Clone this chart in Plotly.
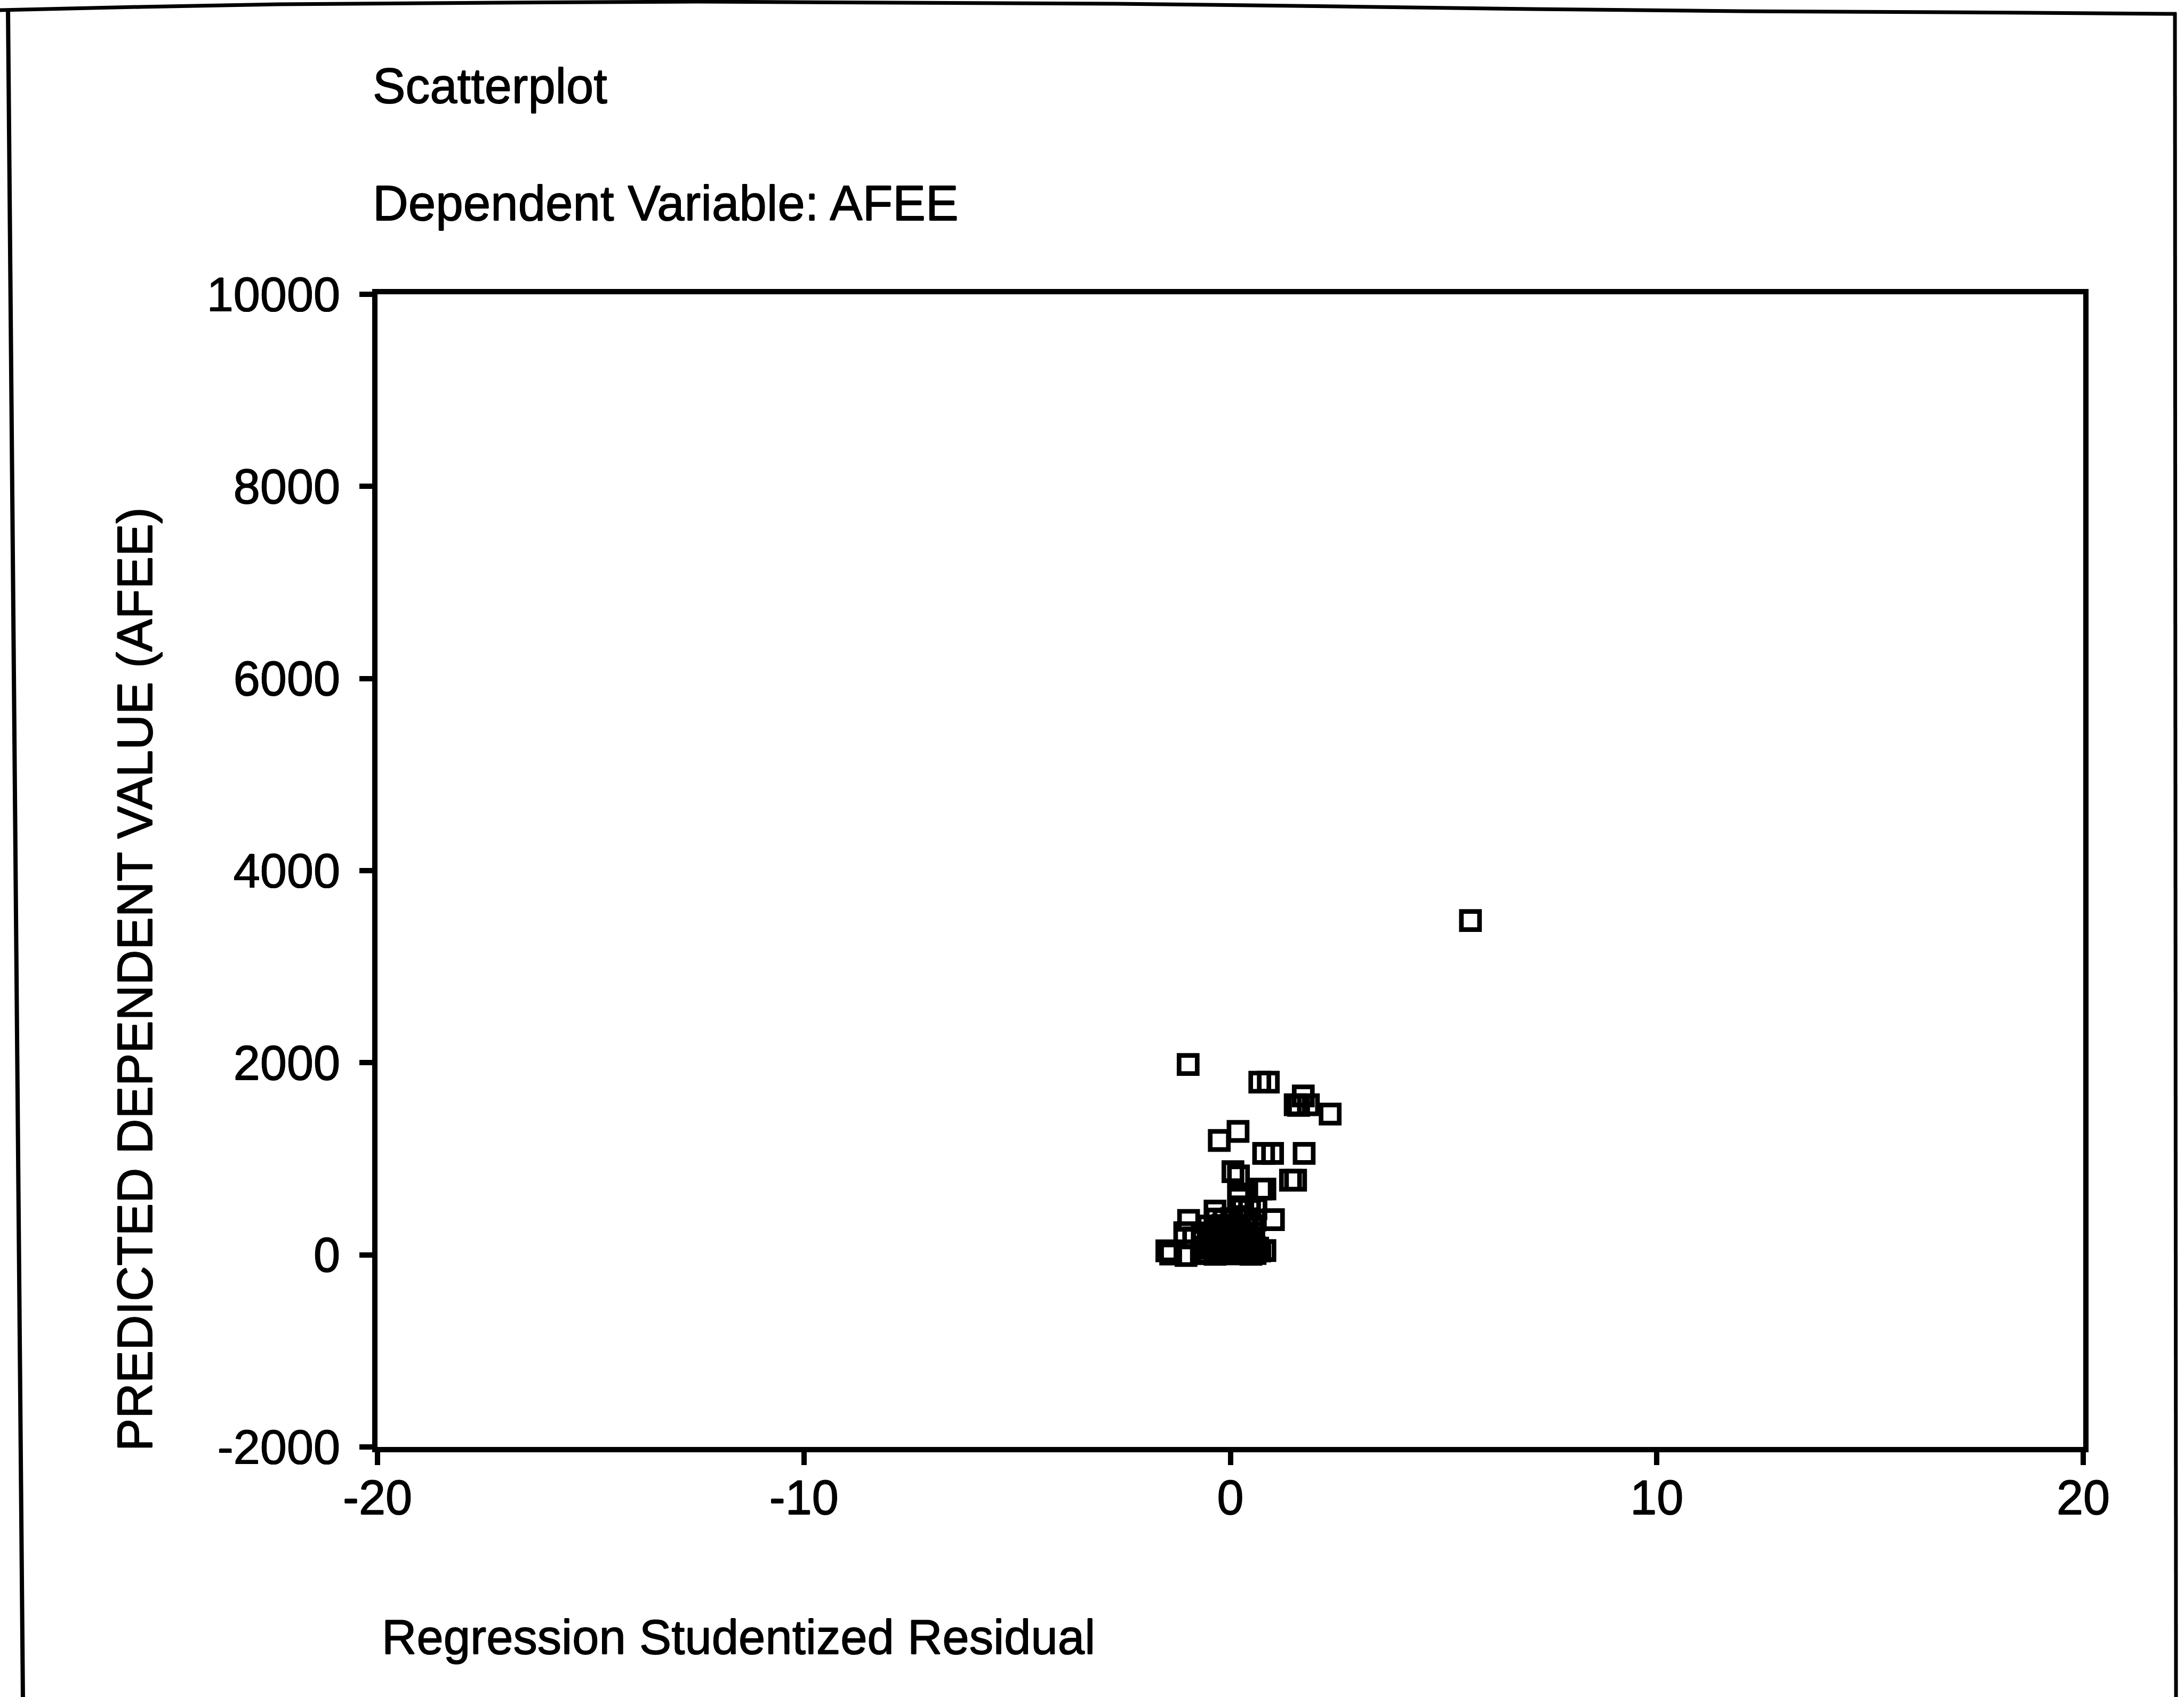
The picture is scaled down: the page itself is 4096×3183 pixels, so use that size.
import plotly.graph_objects as go

# Regression studentized residuals (x) against predicted AFEE values (y)
resid = [
    5.63, -0.99, 0.69, 0.89, 1.71, 1.52, 1.60, 1.83, 2.34, -0.26, 0.18,
    0.78, 0.99, 1.73, 1.41, 1.53,
    0.06, 0.19, 0.19, 0.72, 0.81, 1.01, 0.81, -0.36, 0.22, 0.29, 0.45, 0.60,
    -0.98, -1.07, -1.49, -1.04, -0.86, 0.69, 0.64,
    -1.40, -0.68, -0.52, -0.36, -0.19, -0.02, 0.15, 0.32, 0.48, 0.58,
    -0.60, -0.44, -0.27, -0.10, 0.07, 0.24, 0.40, 0.56,
    -0.65, -0.48, -0.31, -0.14, 0.03, 0.20, 0.37, 0.55,
    -0.66, -0.49, -0.32, -0.15, 0.02, 0.19, 0.36, 0.52,
    -0.52, -0.35, -0.18, 0.00, 0.18, 0.35, 0.52,
    -0.33, -0.15, 0.03, 0.22, 0.40, 0.58,
]
pred = [
    3480, 1982, 1798, 1798, 1654, 1563, 1555, 1563, 1465, 1191, 1285,
    1056, 1056, 1056, 777, 777,
    866, 822, 588, 685, 685, 367, 45, 455, 500, 475, 470, 480,
    359, 231, 42, -7, 177, 40, 70,
    8, 12, 20, 5, 15, 25, 10, 18, 6, 14,
    80, 70, 85, 75, 68, 82, 72, 78,
    150, 160, 145, 155, 148, 158, 142, 152,
    228, 220, 232, 224, 236, 218, 230, 226,
    300, 292, 306, 298, 310, 296, 304,
    372, 365, 378, 368, 375, 362,
]

x_ticks = [-20, -10, 0, 10, 20]
y_ticks = [-2000, 0, 2000, 4000, 6000, 8000, 10000]

title_main = "Scatterplot"
title_sub = "Dependent Variable: AFEE"
x_title = "Regression Studentized Residual"
y_title = "PREDICTED DEPENDENT VALUE (AFEE)"

FONT = "Liberation Sans, Arial, Helvetica, sans-serif"
INK = "black"
# a faint outline thickens the glyph strokes slightly
HALO = "0.7px 0 0 black, -0.7px 0 0 black, 0 0.7px 0 black, 0 -0.7px 0 black"

W, H = 4096, 3183
L, R, T, B = 708, 189, 552, 469
plot_w = W - L - R
plot_h = H - T - B


def px(v):
    """page pixel column -> paper x"""
    return (v - L) / plot_w


def py(v):
    """page pixel row -> paper y"""
    return (H - B - v) / plot_h


fig = go.Figure()
fig.add_trace(go.Scatter(
    x=resid, y=pred, mode="markers",
    marker=dict(symbol="square-open", size=34, color=INK,
                line=dict(width=8.7, color=INK)),
    hoverinfo="x+y",
))

axis_common = dict(
    showline=True, linewidth=10, linecolor=INK, mirror=True,
    ticks="outside", ticklen=24, tickwidth=10, tickcolor=INK,
    showgrid=False, zeroline=False,
    tickfont=dict(family=FONT, size=90, color=INK, shadow=HALO),
)

fig.update_xaxes(range=[-20, 20], tickmode="array", tickvals=x_ticks,
                 ticktext=[str(v) for v in x_ticks], ticklabelstandoff=-16,
                 **axis_common)
fig.update_yaxes(range=[-2000, 10000], tickmode="array", tickvals=y_ticks,
                 ticktext=[str(v) for v in y_ticks], ticklabelstandoff=18,
                 **axis_common)


def text_font(size):
    return dict(family=FONT, size=size, color=INK, shadow=HALO)


annotations = [
    dict(text=title_main, x=px(697), y=py(161), xanchor="left", yanchor="middle",
         font=text_font(92)),
    dict(text=title_sub, x=px(697), y=py(381), xanchor="left", yanchor="middle",
         font=text_font(92.5)),
    dict(text=x_title, x=px(714), y=py(3070), xanchor="left", yanchor="middle",
         font=text_font(90.5)),
    dict(text=y_title, x=px(253), y=py(1837), xanchor="center", yanchor="middle",
         textangle=-90, font=text_font(92)),
]
for a in annotations:
    a.update(xref="paper", yref="paper", showarrow=False)

# outer page frame: slightly bowed top edge, open at the bottom
top_edge = [(0, 19), (261, 13), (523, 8), (940, 5), (1307, 3), (1672, 5),
            (2090, 7), (2508, 12), (2874, 17), (3266, 21), (3658, 23), (4082, 26)]
top_path = "M " + " L ".join(f"{px(a):.5f},{py(b):.5f}" for a, b in top_edge)
frame_line = dict(color=INK, width=7)
shapes = [
    dict(type="path", path=top_path, line=frame_line),
    dict(type="line", x0=px(15), y0=py(17), x1=px(43), y1=py(H + 5), line=dict(color=INK, width=8)),
    dict(type="line", x0=px(4079), y0=py(24), x1=px(4081), y1=py(H + 5), line=frame_line),
]
for s in shapes:
    s.update(xref="paper", yref="paper", layer="above")

fig.update_layout(
    width=W, height=H,
    margin=dict(l=L, r=R, t=T, b=B, pad=0),
    paper_bgcolor="white", plot_bgcolor="white",
    showlegend=False,
    annotations=annotations,
    shapes=shapes,
    font=dict(family=FONT, color=INK),
)

fig.write_html("out.html")
